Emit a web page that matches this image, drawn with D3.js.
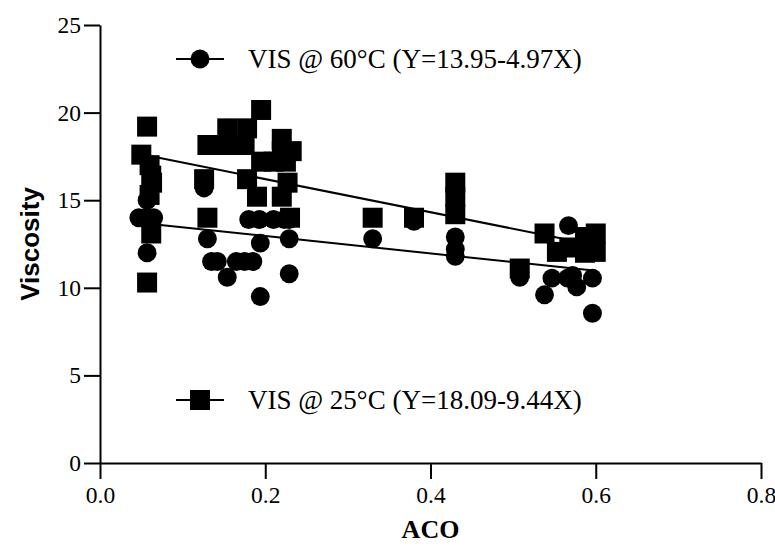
<!DOCTYPE html>
<meta charset="utf-8">
<style>
body { margin: 0; background: #fff; }
.axis path, .axis line { fill: none; stroke: #000; stroke-width: 2; }
.axis text { font: 23.5px "Liberation Serif", "Times New Roman", serif; fill: #000; }
.legend text { font: 27px "Liberation Serif", "Times New Roman", serif; }
</style>
<svg width="775" height="556"></svg>
<script src="https://d3js.org/d3.v7.min.js"></script>
<script>

// VIS @ 60°C (circles)
var aco60 = [0.047, 0.057, 0.065, 0.057, 0.057, 0.126, 0.13, 0.135, 0.142, 0.165, 0.175, 0.185, 0.154, 0.194, 0.194,
             0.229, 0.229, 0.18, 0.193, 0.21, 0.223, 0.229, 0.33, 0.38, 0.43, 0.43, 0.43, 0.508, 0.547, 0.566,
             0.572, 0.577, 0.596, 0.538, 0.596, 0.567];
var vis60 = [14.0, 14.0, 14.0, 15.0, 12.0, 15.7, 12.8, 11.5, 11.5, 11.5, 11.5, 11.5, 10.6, 9.5, 12.55,
             10.8, 12.8, 13.9, 13.9, 13.9, 13.9, 13.9, 12.8, 13.8, 12.9, 12.2, 11.8, 10.6, 10.55, 10.55,
             10.7, 10.05, 10.55, 9.6, 8.55, 13.55];

// VIS @ 25°C (squares)
var aco25 = [0.057, 0.05, 0.06, 0.062, 0.063, 0.06, 0.062, 0.057, 0.126, 0.13, 0.195, 0.154, 0.178, 0.13,
             0.145, 0.16, 0.175, 0.22, 0.22, 0.232, 0.195, 0.21, 0.225, 0.178, 0.227, 0.19, 0.22, 0.23,
             0.33, 0.38, 0.43, 0.43, 0.43, 0.508, 0.538, 0.553, 0.568, 0.587, 0.6, 0.587, 0.6];
var vis25 = [19.2, 17.6, 17.0, 16.4, 16.0, 15.3, 13.1, 10.3, 16.2, 14.0, 20.15, 19.1, 19.1, 18.15,
             18.15, 18.15, 18.15, 18.5, 17.8, 17.8, 17.2, 17.2, 17.2, 16.2, 16.0, 15.2, 15.2, 14.0,
             14.0, 14.0, 16.0, 15.2, 14.2, 11.1, 13.1, 12.05, 12.3, 12.9, 13.1, 12.0, 12.05];

// fitted lines: intercept, slope, x range
var fit60 = [13.95, -4.97];
var fit25 = [18.09, -9.44];
var fitRange = [0.05, 0.6];

var legendLabels = ["VIS @ 60°C (Y=13.95-4.97X)", "VIS @ 25°C (Y=18.09-9.44X)"];
var xTicks = [0, 0.2, 0.4, 0.6, 0.8];
var yTicks = [0, 5, 10, 15, 20, 25];

var svg = d3.select("svg"),
    margin = {top: 25, right: 14, bottom: 93, left: 100},
    width = svg.attr("width") - margin.left - margin.right,
    height = svg.attr("height") - margin.top - margin.bottom;

var x = d3.scaleLinear().domain([0, 0.8]).range([0, width]);
var y = d3.scaleLinear().domain([0, 25]).range([height, 0]);

var g = svg.append("g")
    .attr("transform", "translate(" + margin.left + "," + margin.top + ")");

g.append("g")
    .attr("class", "axis")
    .attr("transform", "translate(0," + height + ")")
    .call(d3.axisBottom(x).tickValues(xTicks).tickFormat(d3.format(".1f")).tickSize(16).tickPadding(7).tickSizeOuter(0));

g.append("g")
    .attr("class", "axis")
    .call(d3.axisLeft(y).tickValues(yTicks).tickSize(16).tickPadding(3).tickSizeOuter(0));

// axis titles
svg.append("text")
    .attr("transform", "translate(30," + (margin.top + height / 2) + ") rotate(-90)")
    .attr("text-anchor", "middle")
    .attr("dy", "0.35em")
    .style("font", "bold 26px 'Liberation Sans', Arial, sans-serif")
    .text("Viscosity");

svg.append("text")
    .attr("x", margin.left + width / 2)
    .attr("y", 538)
    .attr("text-anchor", "middle")
    .style("font", "bold 26px 'Liberation Serif', 'Times New Roman', serif")
    .text("ACO");

var circle = d3.symbol().type(d3.symbolCircle).size(280);
var square = d3.symbol().type(d3.symbolSquare).size(400);

// regression lines
var line = d3.line().x(function(d) { return x(d[0]); }).y(function(d) { return y(d[1]); });
[fit60, fit25].forEach(function(f) {
  g.append("path")
      .datum(fitRange.map(function(v) { return [v, f[0] + f[1] * v]; }))
      .attr("d", line)
      .attr("fill", "none")
      .attr("stroke", "#000")
      .attr("stroke-width", 2);
});

g.append("g").selectAll("path")
    .data(aco25.map(function(v, i) { return [v, vis25[i]]; }))
  .enter().append("path")
    .attr("d", square)
    .attr("transform", function(d) { return "translate(" + x(d[0]) + "," + y(d[1]) + ")"; });

g.append("g").selectAll("path")
    .data(aco60.map(function(v, i) { return [v, vis60[i]]; }))
  .enter().append("path")
    .attr("d", circle)
    .attr("transform", function(d) { return "translate(" + x(d[0]) + "," + y(d[1]) + ")"; });

// legends
var legendPos = [59, 400];
var legendSym = [circle, square];
legendLabels.forEach(function(label, i) {
  var lg = svg.append("g").attr("class", "legend")
      .attr("transform", "translate(0," + legendPos[i] + ")");
  lg.append("line").attr("x1", 176).attr("x2", 224).attr("stroke", "#000").attr("stroke-width", 2);
  lg.append("path").attr("d", legendSym[i]).attr("transform", "translate(200,0)");
  lg.append("text").attr("x", 248).attr("dy", "0.35em").text(label);
});

</script>
